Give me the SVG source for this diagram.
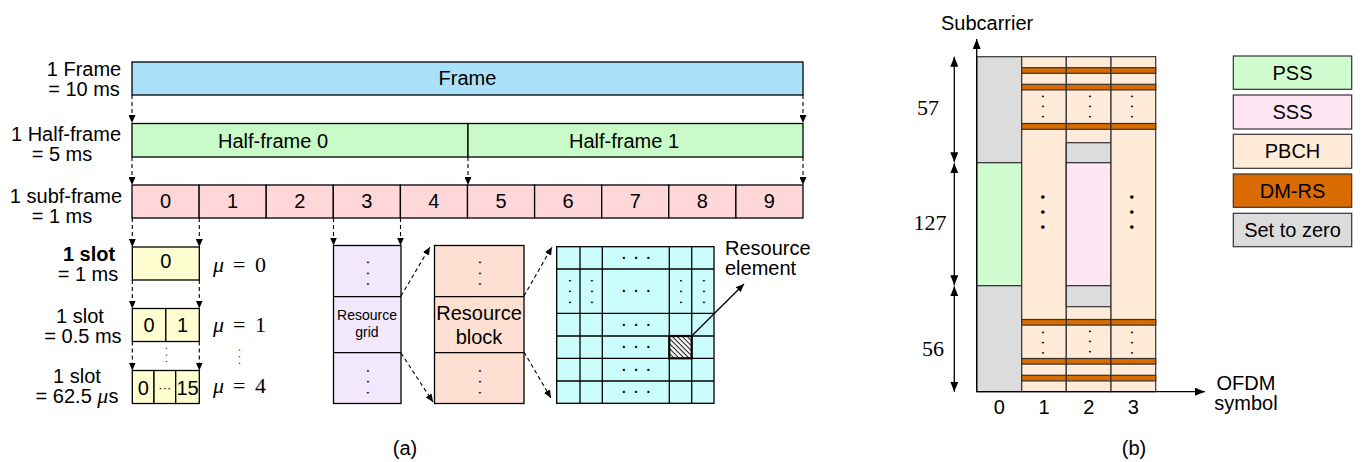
<svg xmlns="http://www.w3.org/2000/svg" width="1369" height="462" viewBox="0 0 1369 462" font-size="20">
<style>
text{font-family:"Liberation Sans",Arial,sans-serif;fill:#000}
.c{text-anchor:middle}
.m{font-family:"Liberation Serif","DejaVu Serif",serif;font-size:22px}
.mi{font-family:"Liberation Serif","DejaVu Serif",serif;font-style:italic;font-size:22px}
.vd{font-size:16px;text-anchor:middle;letter-spacing:5.55px}
.bd{font-size:16px;text-anchor:middle;letter-spacing:4.85px}
.vs{font-size:11px;text-anchor:middle;letter-spacing:2.94px}
.bul{font-size:13px;text-anchor:middle;letter-spacing:10.45px}
.bx{stroke:#000;stroke-width:1.3}
.bb{stroke:#333;stroke-width:1.2}
.dash{stroke:#000;stroke-width:1.1;stroke-dasharray:4 3;fill:none}
.ln{stroke:#000;stroke-width:1.3;fill:none}
.frame{fill:#a9e1fb}
.half{fill:#c8fbc8}
.sub{fill:#ffd7d9}
.slot{fill:#fefed0}
.rg{fill:#f1e8fd}
.rb{fill:#fde0d1}
.re{fill:#ccfdfd}
.pss{fill:#d0fdd0}
.sss{fill:#ffe6f2}
.pbch{fill:#ffebd8}
.dmrs{fill:#d96b00}
.zero{fill:#dcdcdc}
</style>
<defs>
<marker id="ah" markerUnits="userSpaceOnUse" markerWidth="9" markerHeight="7" refX="8" refY="3.5" orient="auto-start-reverse">
<path d="M0,0 L8,3.5 L0,7 z" fill="#000"/>
</marker>
<marker id="ab" markerUnits="userSpaceOnUse" markerWidth="11" markerHeight="8" refX="10" refY="4" orient="auto-start-reverse">
<path d="M0,0 L10,4 L0,8 z" fill="#000"/>
</marker>
<pattern id="hatch" patternUnits="userSpaceOnUse" width="3.5" height="3.5" patternTransform="rotate(45)">
<rect width="3.5" height="3.5" fill="#fff"/>
<line x1="0" y1="0.6" x2="3.5" y2="0.6" stroke="#000" stroke-width="0.9"/>
</pattern>
</defs>

<!-- Left labels -->
<g id="lbl-frame"><text class="c"><tspan x="84" y="75.5">1 Frame</tspan><tspan x="84" y="95.5">= 10 ms</tspan></text></g>
<g id="lbl-half"><text class="c"><tspan x="66" y="141">1 Half-frame</tspan><tspan x="62" y="161">= 5 ms</tspan></text></g>
<g id="lbl-subf"><text class="c"><tspan x="66" y="203">1 subf-frame</tspan><tspan x="62" y="223">= 1 ms</tspan></text></g>
<g id="lbl-slot0"><text class="c"><tspan x="89" y="261" font-weight="bold">1 slot</tspan><tspan x="88" y="281">= 1 ms</tspan></text></g>
<g id="lbl-slot1"><text class="c"><tspan x="80" y="323">1 slot</tspan><tspan x="83" y="343">= 0.5 ms</tspan></text></g>
<g id="lbl-slot4"><text class="c"><tspan x="77" y="383">1 slot</tspan><tspan x="77" y="403">= 62.5 <tspan font-family="Liberation Serif, serif" font-style="italic" font-size="22">μ</tspan>s</tspan></text></g>

<!-- Frame -->
<g id="frame"><rect class="bx frame" x="132" y="62" width="671" height="33"/><text class="c" x="467.5" y="85">Frame</text></g>

<!-- Half-frames -->
<g id="halfframe0"><rect class="bx half" x="132" y="123.5" width="336" height="33.5"/><text class="c" x="273" y="148">Half-frame 0</text></g>
<g id="halfframe1"><rect class="bx half" x="468" y="123.5" width="335" height="33.5"/><text class="c" x="624" y="148">Half-frame 1</text></g>

<!-- Subframes -->
<g id="subframes">
<rect class="bx sub" x="132" y="185" width="67.1" height="33"/>
<rect class="bx sub" x="199.1" y="185" width="67.1" height="33"/>
<rect class="bx sub" x="266.2" y="185" width="67.1" height="33"/>
<rect class="bx sub" x="333.3" y="185" width="67.1" height="33"/>
<rect class="bx sub" x="400.4" y="185" width="67.1" height="33"/>
<rect class="bx sub" x="467.5" y="185" width="67.1" height="33"/>
<rect class="bx sub" x="534.6" y="185" width="67.1" height="33"/>
<rect class="bx sub" x="601.7" y="185" width="67.1" height="33"/>
<rect class="bx sub" x="668.8" y="185" width="67.1" height="33"/>
<rect class="bx sub" x="735.9" y="185" width="67.1" height="33"/>
<text class="c" x="165.5" y="208">0</text>
<text class="c" x="232.6" y="208">1</text>
<text class="c" x="299.7" y="208">2</text>
<text class="c" x="366.8" y="208">3</text>
<text class="c" x="433.9" y="208">4</text>
<text class="c" x="501" y="208">5</text>
<text class="c" x="568.1" y="208">6</text>
<text class="c" x="635.2" y="208">7</text>
<text class="c" x="702.3" y="208">8</text>
<text class="c" x="769.4" y="208">9</text>
</g>

<!-- Slots -->
<g id="slot-mu0"><rect class="bx slot" x="132.3" y="247" width="67" height="33"/><text class="c" x="165.8" y="268">0</text></g>
<g id="slot-mu1"><rect class="bx slot" x="132.3" y="308.5" width="33.5" height="33"/><rect class="bx slot" x="165.8" y="308.5" width="33.5" height="33"/><text class="c" x="149" y="332">0</text><text class="c" x="182.5" y="332">1</text></g>
<g id="slot-mu4"><rect class="bx slot" x="132.3" y="370.5" width="21.7" height="33"/><rect class="bx slot" x="154" y="370.5" width="21.7" height="33"/><rect class="bx slot" x="175.7" y="370.5" width="23.6" height="33"/><text class="c" x="143.2" y="395">0</text><text class="c" x="164.8" y="392" font-size="13">···</text><text class="c" x="187.5" y="395">15</text></g>
<g id="vdots-slot">
<text class="vs" transform="translate(162.5,356.5) rotate(90)">···</text>
<text class="vs" transform="translate(235.5,358.2) rotate(90)">···</text>
</g>

<!-- mu labels -->
<g id="mu0"><text class="mi" x="213" y="272">μ</text><text class="m" x="233" y="272">=</text><text class="m" x="255" y="272">0</text></g>
<g id="mu1"><text class="mi" x="213" y="332">μ</text><text class="m" x="233" y="332">=</text><text class="m" x="255" y="332">1</text></g>
<g id="mu4"><text class="mi" x="213" y="393">μ</text><text class="m" x="233" y="393">=</text><text class="m" x="255" y="393">4</text></g>

<!-- Resource grid -->
<g id="resource-grid">
<rect class="bx rg" x="333.5" y="245.5" width="67.5" height="158"/>
<line class="ln" x1="333.5" y1="296.7" x2="401" y2="296.7"/>
<line class="ln" x1="333.5" y1="352.7" x2="401" y2="352.7"/>
<text class="vd" transform="translate(362.7,276.1) rotate(90)">···</text>
<text class="vd" transform="translate(362.7,384.5) rotate(90)">···</text>
<text class="c" font-size="14"><tspan x="367" y="320">Resource</tspan><tspan x="367" y="337">grid</tspan></text>
</g>

<!-- Resource block -->
<g id="resource-block">
<rect class="bx rb" x="434.5" y="245.5" width="89.5" height="158"/>
<line class="ln" x1="434.5" y1="296.7" x2="524" y2="296.7"/>
<line class="ln" x1="434.5" y1="352.7" x2="524" y2="352.7"/>
<text class="vd" transform="translate(474.7,276.1) rotate(90)">···</text>
<text class="vd" transform="translate(474.7,384.5) rotate(90)">···</text>
<text class="c"><tspan x="479" y="320">Resource</tspan><tspan x="479" y="344">block</tspan></text>
</g>

<!-- Resource element grid -->
<g id="re-grid">
<rect class="bx re" x="556.7" y="246.7" width="157.3" height="156.6"/>
<g class="ln">
<line x1="580" y1="246.7" x2="580" y2="403.3"/>
<line x1="602.3" y1="246.7" x2="602.3" y2="403.3"/>
<line x1="669.3" y1="246.7" x2="669.3" y2="403.3"/>
<line x1="691.7" y1="246.7" x2="691.7" y2="403.3"/>
<line x1="556.7" y1="269" x2="714" y2="269"/>
<line x1="556.7" y1="313.3" x2="714" y2="313.3"/>
<line x1="556.7" y1="336" x2="714" y2="336"/>
<line x1="556.7" y1="358.3" x2="714" y2="358.3"/>
<line x1="556.7" y1="381" x2="714" y2="381"/>
</g>
<rect x="669.3" y="336" width="22.4" height="22.3" fill="url(#hatch)" stroke="#000" stroke-width="2.2"/>
<text class="c" x="636" y="263">· · ·</text>
<text class="c" x="636" y="296">· · ·</text>
<text class="c" x="636" y="330">· · ·</text>
<text class="c" x="636" y="352">· · ·</text>
<text class="c" x="636" y="375">· · ·</text>
<text class="c" x="636" y="397">· · ·</text>
<text class="vd" transform="translate(564.7,294.3) rotate(90)">···</text>
<text class="vd" transform="translate(586.7,294.3) rotate(90)">···</text>
<text class="vd" transform="translate(676.2,294.3) rotate(90)">···</text>
<text class="vd" transform="translate(698.7,294.3) rotate(90)">···</text>
</g>
<g id="re-label"><text><tspan x="725" y="255">Resource</tspan><tspan x="725" y="275">element</tspan></text></g>

<!-- Panel (b) -->
<g id="col0">
<rect class="bb zero" x="976.7" y="56.7" width="45" height="106"/>
<rect class="bb pss" x="976.7" y="162.7" width="45" height="123"/>
<rect class="bb zero" x="976.7" y="285.7" width="45" height="106"/>
</g>
<g id="col1"><rect class="bb pbch" x="1021.7" y="56.7" width="44.6" height="335"/></g>
<g id="col2">
<rect class="bb pbch" x="1066.3" y="56.7" width="44.7" height="335"/>
<rect class="bb zero" x="1066.3" y="142.7" width="44.7" height="20"/>
<rect class="bb sss" x="1066.3" y="162.7" width="44.7" height="123"/>
<rect class="bb zero" x="1066.3" y="285.7" width="44.7" height="21"/>
</g>
<g id="col3"><rect class="bb pbch" x="1111" y="56.7" width="44.7" height="335"/></g>
<g id="dmrs-bars">
<rect class="bb dmrs" x="1021.7" y="67.7" width="44.6" height="5.6"/><rect class="bb dmrs" x="1066.3" y="67.7" width="44.7" height="5.6"/><rect class="bb dmrs" x="1111" y="67.7" width="44.7" height="5.6"/>
<rect class="bb dmrs" x="1021.7" y="84.3" width="44.6" height="5.6"/><rect class="bb dmrs" x="1066.3" y="84.3" width="44.7" height="5.6"/><rect class="bb dmrs" x="1111" y="84.3" width="44.7" height="5.6"/>
<rect class="bb dmrs" x="1021.7" y="123.5" width="44.6" height="5.8"/><rect class="bb dmrs" x="1066.3" y="123.5" width="44.7" height="5.8"/><rect class="bb dmrs" x="1111" y="123.5" width="44.7" height="5.8"/>
<rect class="bb dmrs" x="1021.7" y="319.5" width="44.6" height="5.6"/><rect class="bb dmrs" x="1066.3" y="319.5" width="44.7" height="5.6"/><rect class="bb dmrs" x="1111" y="319.5" width="44.7" height="5.6"/>
<rect class="bb dmrs" x="1021.7" y="358.5" width="44.6" height="5.6"/><rect class="bb dmrs" x="1066.3" y="358.5" width="44.7" height="5.6"/><rect class="bb dmrs" x="1111" y="358.5" width="44.7" height="5.6"/>
<rect class="bb dmrs" x="1021.7" y="375.3" width="44.6" height="5.6"/><rect class="bb dmrs" x="1066.3" y="375.3" width="44.7" height="5.6"/><rect class="bb dmrs" x="1111" y="375.3" width="44.7" height="5.6"/>
</g>
<g id="b-dots">
<text class="bd" transform="translate(1038.2,108.9) rotate(90)">···</text>
<text class="bd" transform="translate(1084.7,108.9) rotate(90)">···</text>
<text class="bd" transform="translate(1126.7,108.9) rotate(90)">···</text>
<text class="bd" transform="translate(1038.2,345.1) rotate(90)">···</text>
<text class="bd" transform="translate(1084.7,343.9) rotate(90)">···</text>
<text class="bd" transform="translate(1126.7,345.1) rotate(90)">···</text>
<text class="bul" transform="translate(1038,217.2) rotate(90)">•••</text>
<text class="bul" transform="translate(1126.5,217.2) rotate(90)">•••</text>
</g>

<g id="legend-pss"><rect class="bb pss" x="1233.3" y="56" width="118.4" height="33.3"/><text class="c" x="1292.5" y="80">PSS</text></g>
<g id="legend-sss"><rect class="bb sss" x="1233.3" y="95" width="118.4" height="34"/><text class="c" x="1292.5" y="119">SSS</text></g>
<g id="legend-pbch"><rect class="bb pbch" x="1233.3" y="134.3" width="118.4" height="34"/><text class="c" x="1292.5" y="158">PBCH</text></g>
<g id="legend-dmrs"><rect class="bb dmrs" x="1233.3" y="174" width="118.4" height="33.3"/><text class="c" x="1292.5" y="198">DM-RS</text></g>
<g id="legend-zero"><rect class="bb zero" x="1233.3" y="213.3" width="118.4" height="33.4"/><text class="c" x="1292.5" y="237">Set to zero</text></g>

<g id="b-labels">
<text x="941" y="30">Subcarrier</text>
<text class="m" x="928" y="115" text-anchor="middle">57</text>
<text class="m" x="930" y="230" text-anchor="middle">127</text>
<text class="m" x="933" y="356" text-anchor="middle">56</text>
<text class="c" x="999.2" y="414">0</text>
<text class="c" x="1044" y="414">1</text>
<text class="c" x="1088.7" y="414">2</text>
<text class="c" x="1133.4" y="414">3</text>
<text class="c"><tspan x="1246" y="390">OFDM</tspan><tspan x="1246" y="410">symbol</tspan></text>
</g>

<g id="captions"><text class="c" x="405" y="455">(a)</text><text class="c" x="1134" y="455">(b)</text></g>

<!-- Connectors -->
<g id="connectors">
<line class="dash" x1="132" y1="95" x2="132" y2="123" marker-end="url(#ah)"/>
<line class="dash" x1="803" y1="95" x2="803" y2="123" marker-end="url(#ah)"/>
<line class="dash" x1="132" y1="157" x2="132" y2="185" marker-end="url(#ah)"/>
<line class="dash" x1="468" y1="157" x2="468" y2="185" marker-end="url(#ah)"/>
<line class="dash" x1="803" y1="157" x2="803" y2="185" marker-end="url(#ah)"/>
<line class="dash" x1="132.3" y1="218" x2="132.3" y2="247" marker-end="url(#ah)"/>
<line class="dash" x1="199.3" y1="218" x2="199.3" y2="247" marker-end="url(#ah)"/>
<line class="dash" x1="333.5" y1="218" x2="333.5" y2="245.5" marker-end="url(#ah)"/>
<line class="dash" x1="400.5" y1="218" x2="400.5" y2="245.5" marker-end="url(#ah)"/>
<line class="dash" x1="132.3" y1="280" x2="132.3" y2="308.5" marker-end="url(#ah)"/>
<line class="dash" x1="199.3" y1="280" x2="199.3" y2="308.5" marker-end="url(#ah)"/>
<line class="dash" x1="132.3" y1="341.5" x2="132.3" y2="370.5" marker-end="url(#ah)"/>
<line class="dash" x1="199.3" y1="341.5" x2="199.3" y2="370.5" marker-end="url(#ah)"/>
<line class="dash" x1="401" y1="296" x2="430" y2="247" marker-end="url(#ah)"/>
<line class="dash" x1="401" y1="353" x2="433" y2="402" marker-end="url(#ah)"/>
<line class="dash" x1="524" y1="296" x2="552" y2="247" marker-end="url(#ah)"/>
<line class="dash" x1="524" y1="352" x2="551" y2="398" marker-end="url(#ah)"/>
<line class="ln" x1="691.7" y1="336" x2="744" y2="284" marker-end="url(#ah)"/>
<line class="ln" x1="976.7" y1="391.7" x2="976.7" y2="39" marker-end="url(#ab)"/>
<line class="ln" x1="976.7" y1="391.7" x2="1205" y2="391.7" marker-end="url(#ab)"/>
<line class="ln" x1="954.3" y1="56.7" x2="954.3" y2="162.2" marker-start="url(#ab)" marker-end="url(#ab)"/>
<line class="ln" x1="954.3" y1="163.2" x2="954.3" y2="285.2" marker-start="url(#ab)" marker-end="url(#ab)"/>
<line class="ln" x1="954.3" y1="286.2" x2="954.3" y2="391.7" marker-start="url(#ab)" marker-end="url(#ab)"/>
</g>
</svg>
